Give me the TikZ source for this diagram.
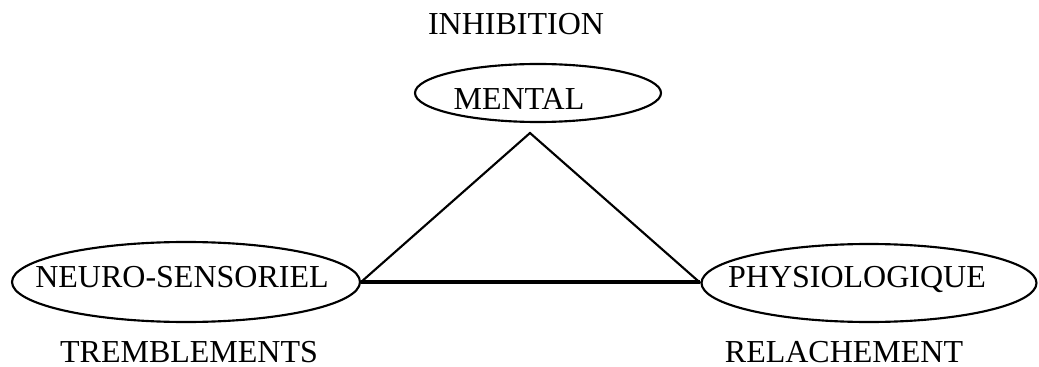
\documentclass[tikz,border=0pt]{standalone}
\usepackage{fontspec}
\setmainfont{Liberation Serif}
\usetikzlibrary{shapes.geometric,positioning}

\begin{document}
\begin{tikzpicture}[x=0.75pt,y=-0.75pt,
    every node/.style={font=\fontsize{24}{28}\selectfont},
    oval/.style={draw,ellipse,line width=1.6pt,inner sep=0pt},
    word/.style={inner sep=0pt,anchor=base}]
  \useasboundingbox (0,0) rectangle (1039,367);
  %% Ellipses
  \node[oval,minimum width=246*0.75pt,minimum height=58*0.75pt] (mental) at (538,93) {};
  \node[oval,minimum width=348*0.75pt,minimum height=80*0.75pt] (neuro) at (186,282) {};
  \node[oval,minimum width=335*0.75pt,minimum height=78*0.75pt] (physio) at (869,283) {};
  %% Texts inside
  \node[word] (tmental) at (519,110) {MENTAL};
  \node[word] (tneuro) at (182,287) {NEURO-SENSORIEL};
  \node[word] (tphysio) at (857,287) {PHYSIOLOGIQUE};
  %% Texts outside
  \node[word] (inhib) at (516,35) {INHIBITION};
  \node[word] (tremb) at (189,362) {TREMBLEMENTS};
  \node[word] (relach) at (844,362) {RELACHEMENT};
  %% Triangle
  \coordinate (apex) at (530,133);
  \draw[line width=1.6pt,line join=miter] (neuro.east) -- (apex) -- (physio.west);
  \draw[line width=2.4pt] (neuro.east) -- (neuro.east -| physio.west);
\end{tikzpicture}
\end{document}
